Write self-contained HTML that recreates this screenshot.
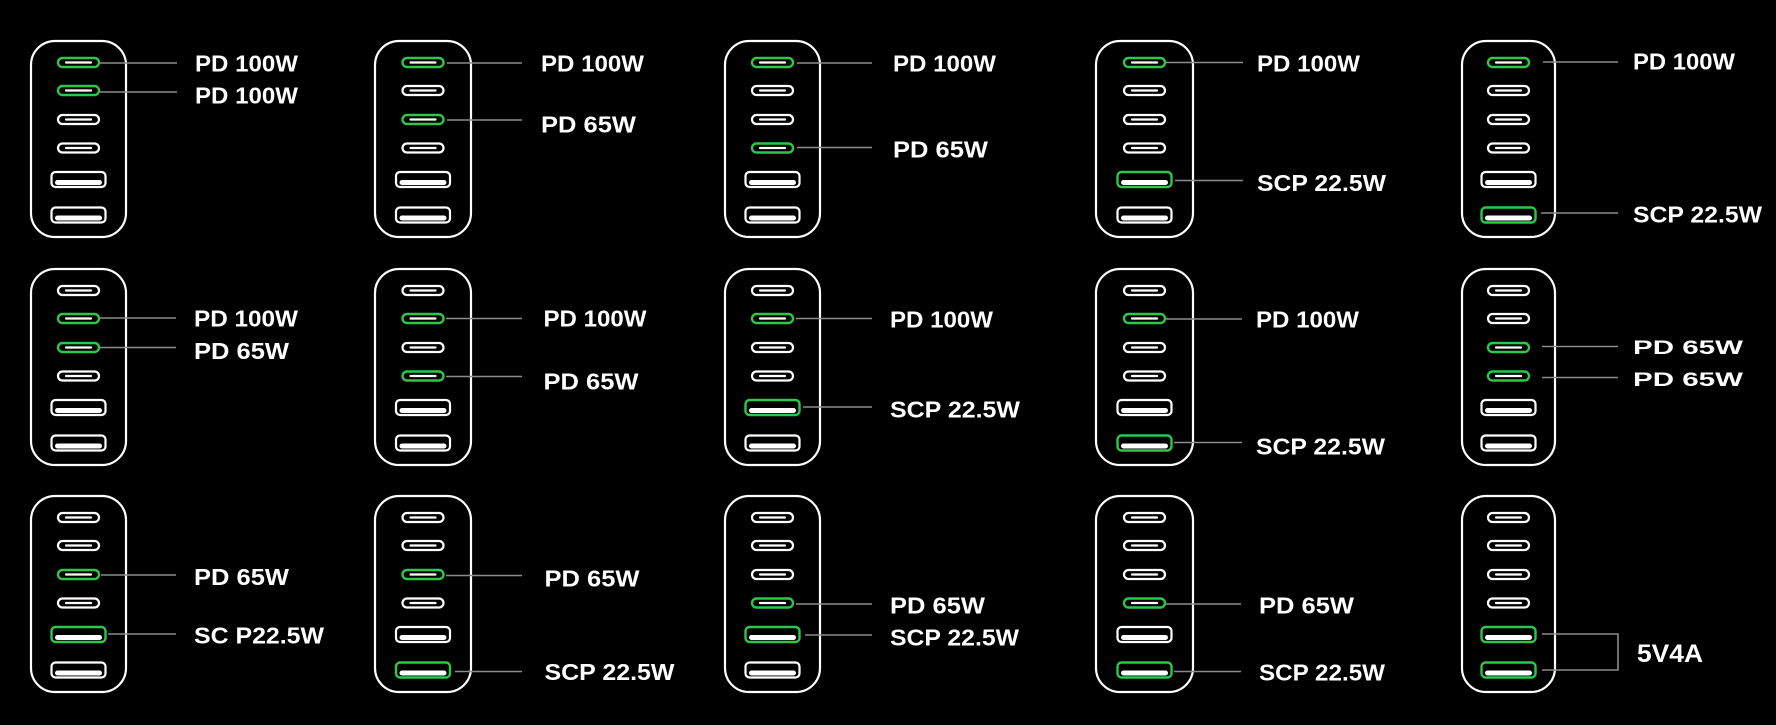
<!DOCTYPE html>
<html>
<head>
<meta charset="utf-8">
<style>
html,body{margin:0;padding:0;background:#000;}
svg{display:block;}
.box{fill:none;stroke:#fff;stroke-width:2.2;}
.ln{stroke:#8c8c8c;stroke-width:1.6;fill:none;}
.t{fill:#fff;font-family:"Liberation Sans",Arial,sans-serif;font-weight:bold;font-size:23px;}
.tw{fill:#fff;font-family:"Liberation Sans",Arial,sans-serif;font-weight:bold;font-size:19.5px;}
.tb{fill:#fff;font-family:"Liberation Sans",Arial,sans-serif;font-weight:bold;font-size:25px;}
</style>
</head>
<body>
<svg width="1776" height="725" viewBox="0 0 1776 725" xmlns="http://www.w3.org/2000/svg">
<rect width="1776" height="725" fill="#000"/>
<defs>
  <g id="c"><rect x="-20.5" y="-4.5" width="41" height="9" rx="4.5" fill="none" stroke="#fff" stroke-width="2.2"/><line x1="-12.5" y1="0" x2="12.5" y2="0" stroke="#fff" stroke-width="2.2" stroke-linecap="round"/></g>
  <g id="cg"><rect x="-20.5" y="-4.5" width="41" height="9" rx="4.5" fill="none" stroke="#2bc84a" stroke-width="2.4"/><line x1="-12.5" y1="0" x2="12.5" y2="0" stroke="#fff" stroke-width="2.2" stroke-linecap="round"/></g>
  <g id="a"><rect x="-27" y="-7.5" width="54" height="15" rx="4" fill="none" stroke="#fff" stroke-width="2.2"/><rect x="-23.5" y="0.5" width="47" height="5" rx="2.5" fill="#fff"/></g>
  <g id="ag"><rect x="-27" y="-7.5" width="54" height="15" rx="4" fill="none" stroke="#2bc84a" stroke-width="2.4"/><rect x="-23.5" y="0.5" width="47" height="5" rx="2.5" fill="#fff"/></g>
</defs>

<!-- ROW 1 -->
<g transform="translate(78.5,40)">
  <rect class="box" x="-47.5" y="1" width="95" height="196" rx="24"/>
  <use href="#cg" y="22.5"/><use href="#cg" y="50.5"/><use href="#c" y="79.5"/><use href="#c" y="108"/><use href="#a" y="139.5"/><use href="#a" y="175"/>
</g>
<line class="ln" x1="100" y1="63" x2="177" y2="63"/>
<line class="ln" x1="100" y1="92" x2="177" y2="92"/>
<text class="t" x="195" y="71.4" textLength="103" lengthAdjust="spacingAndGlyphs">PD 100W</text>
<text class="t" x="195" y="103.4" textLength="103" lengthAdjust="spacingAndGlyphs">PD 100W</text>

<g transform="translate(423,40)">
  <rect class="box" x="-48" y="1" width="96" height="196" rx="24"/>
  <use href="#cg" y="22.5"/><use href="#c" y="50.5"/><use href="#cg" y="79.5"/><use href="#c" y="108"/><use href="#a" y="139.5"/><use href="#a" y="175"/>
</g>
<line class="ln" x1="447" y1="63" x2="522" y2="63"/>
<line class="ln" x1="447" y1="120" x2="522" y2="120"/>
<text class="t" x="541" y="71.4" textLength="103" lengthAdjust="spacingAndGlyphs">PD 100W</text>
<text class="t" x="541" y="132.4" textLength="95" lengthAdjust="spacingAndGlyphs">PD 65W</text>

<g transform="translate(772.5,40)">
  <rect class="box" x="-47.5" y="1" width="95" height="196" rx="24"/>
  <use href="#cg" y="22.5"/><use href="#c" y="50.5"/><use href="#c" y="79.5"/><use href="#cg" y="108"/><use href="#a" y="139.5"/><use href="#a" y="175"/>
</g>
<line class="ln" x1="797" y1="63" x2="872" y2="63"/>
<line class="ln" x1="797" y1="147.5" x2="872" y2="147.5"/>
<text class="t" x="893" y="71.4" textLength="103" lengthAdjust="spacingAndGlyphs">PD 100W</text>
<text class="t" x="893" y="157.4" textLength="95" lengthAdjust="spacingAndGlyphs">PD 65W</text>

<g transform="translate(1144.5,40)">
  <rect class="box" x="-48.5" y="1" width="97" height="196" rx="24"/>
  <use href="#cg" y="22.5"/><use href="#c" y="50.5"/><use href="#c" y="79.5"/><use href="#c" y="108"/><use href="#ag" y="139.5"/><use href="#a" y="175"/>
</g>
<line class="ln" x1="1166" y1="62.5" x2="1243" y2="62.5"/>
<line class="ln" x1="1175" y1="180.5" x2="1243" y2="180.5"/>
<text class="t" x="1257" y="71.4" textLength="103" lengthAdjust="spacingAndGlyphs">PD 100W</text>
<text class="t" x="1257" y="190.9" textLength="129" lengthAdjust="spacingAndGlyphs">SCP 22.5W</text>

<g transform="translate(1508.5,40)">
  <rect class="box" x="-46.5" y="1" width="93" height="196" rx="24"/>
  <use href="#cg" y="22.5"/><use href="#c" y="50.5"/><use href="#c" y="79.5"/><use href="#c" y="108"/><use href="#a" y="139.5"/><use href="#ag" y="175"/>
</g>
<line class="ln" x1="1543" y1="62" x2="1618" y2="62"/>
<line class="ln" x1="1541" y1="213" x2="1618" y2="213"/>
<text class="t" x="1633" y="69.4" textLength="102" lengthAdjust="spacingAndGlyphs">PD 100W</text>
<text class="t" x="1633" y="222.4" textLength="129" lengthAdjust="spacingAndGlyphs">SCP 22.5W</text>

<!-- ROW 2 -->
<g transform="translate(78.5,268)">
  <rect class="box" x="-47.5" y="1" width="95" height="196" rx="24"/>
  <use href="#c" y="22.5"/><use href="#cg" y="50.5"/><use href="#cg" y="79.5"/><use href="#c" y="108"/><use href="#a" y="139.5"/><use href="#a" y="175"/>
</g>
<line class="ln" x1="100" y1="318" x2="176" y2="318"/>
<line class="ln" x1="100" y1="347.5" x2="176" y2="347.5"/>
<text class="t" x="194" y="326.7" textLength="104" lengthAdjust="spacingAndGlyphs">PD 100W</text>
<text class="t" x="194" y="358.9" textLength="95" lengthAdjust="spacingAndGlyphs">PD 65W</text>

<g transform="translate(423,268)">
  <rect class="box" x="-48" y="1" width="96" height="196" rx="24"/>
  <use href="#c" y="22.5"/><use href="#cg" y="50.5"/><use href="#c" y="79.5"/><use href="#cg" y="108"/><use href="#a" y="139.5"/><use href="#a" y="175"/>
</g>
<line class="ln" x1="446" y1="318.5" x2="522" y2="318.5"/>
<line class="ln" x1="446" y1="376.5" x2="522" y2="376.5"/>
<text class="t" x="543.5" y="326.7" textLength="103" lengthAdjust="spacingAndGlyphs">PD 100W</text>
<text class="t" x="543.5" y="389.4" textLength="95" lengthAdjust="spacingAndGlyphs">PD 65W</text>

<g transform="translate(772.5,268)">
  <rect class="box" x="-47.5" y="1" width="95" height="196" rx="24"/>
  <use href="#c" y="22.5"/><use href="#cg" y="50.5"/><use href="#c" y="79.5"/><use href="#c" y="108"/><use href="#ag" y="139.5"/><use href="#a" y="175"/>
</g>
<line class="ln" x1="796" y1="318.5" x2="872" y2="318.5"/>
<line class="ln" x1="803" y1="407" x2="872" y2="407"/>
<text class="t" x="890" y="327.4" textLength="103" lengthAdjust="spacingAndGlyphs">PD 100W</text>
<text class="t" x="890" y="417.4" textLength="130" lengthAdjust="spacingAndGlyphs">SCP 22.5W</text>

<g transform="translate(1144.5,268)">
  <rect class="box" x="-48.5" y="1" width="97" height="196" rx="24"/>
  <use href="#c" y="22.5"/><use href="#cg" y="50.5"/><use href="#c" y="79.5"/><use href="#c" y="108"/><use href="#a" y="139.5"/><use href="#ag" y="175"/>
</g>
<line class="ln" x1="1166" y1="319" x2="1242" y2="319"/>
<line class="ln" x1="1174" y1="442.5" x2="1242" y2="442.5"/>
<text class="t" x="1256" y="327.4" textLength="103" lengthAdjust="spacingAndGlyphs">PD 100W</text>
<text class="t" x="1256" y="454.7" textLength="129" lengthAdjust="spacingAndGlyphs">SCP 22.5W</text>

<g transform="translate(1508.5,268)">
  <rect class="box" x="-46.5" y="1" width="93" height="196" rx="24"/>
  <use href="#c" y="22.5"/><use href="#c" y="50.5"/><use href="#cg" y="79.5"/><use href="#cg" y="108"/><use href="#a" y="139.5"/><use href="#a" y="175"/>
</g>
<line class="ln" x1="1542" y1="346.5" x2="1618" y2="346.5"/>
<line class="ln" x1="1542" y1="377.5" x2="1618" y2="377.5"/>
<text class="tw" x="1633" y="354" textLength="110" lengthAdjust="spacingAndGlyphs">PD 65W</text>
<text class="tw" x="1633" y="385.8" textLength="110" lengthAdjust="spacingAndGlyphs">PD 65W</text>

<!-- ROW 3 -->
<g transform="translate(78.5,495)">
  <rect class="box" x="-47.5" y="1" width="95" height="196" rx="24"/>
  <use href="#c" y="22.5"/><use href="#c" y="50.5"/><use href="#cg" y="79.5"/><use href="#c" y="108"/><use href="#ag" y="139.5"/><use href="#a" y="175"/>
</g>
<line class="ln" x1="101" y1="575" x2="176" y2="575"/>
<line class="ln" x1="108" y1="634" x2="176" y2="634"/>
<text class="t" x="194" y="585.1" textLength="95" lengthAdjust="spacingAndGlyphs">PD 65W</text>
<text class="t" x="194" y="643.4" textLength="130" lengthAdjust="spacingAndGlyphs">SC P22.5W</text>

<g transform="translate(423,495)">
  <rect class="box" x="-48" y="1" width="96" height="196" rx="24"/>
  <use href="#c" y="22.5"/><use href="#c" y="50.5"/><use href="#cg" y="79.5"/><use href="#c" y="108"/><use href="#a" y="139.5"/><use href="#ag" y="175"/>
</g>
<line class="ln" x1="446" y1="575.5" x2="522" y2="575.5"/>
<line class="ln" x1="455" y1="671.5" x2="522" y2="671.5"/>
<text class="t" x="544.5" y="586.4" textLength="95" lengthAdjust="spacingAndGlyphs">PD 65W</text>
<text class="t" x="544.5" y="680.1" textLength="130" lengthAdjust="spacingAndGlyphs">SCP 22.5W</text>

<g transform="translate(772.5,495)">
  <rect class="box" x="-47.5" y="1" width="95" height="196" rx="24"/>
  <use href="#c" y="22.5"/><use href="#c" y="50.5"/><use href="#c" y="79.5"/><use href="#cg" y="108"/><use href="#ag" y="139.5"/><use href="#a" y="175"/>
</g>
<line class="ln" x1="796" y1="604" x2="872" y2="604"/>
<line class="ln" x1="805" y1="635" x2="872" y2="635"/>
<text class="t" x="890" y="613.4" textLength="95" lengthAdjust="spacingAndGlyphs">PD 65W</text>
<text class="t" x="890" y="645.4" textLength="129" lengthAdjust="spacingAndGlyphs">SCP 22.5W</text>

<g transform="translate(1144.5,495)">
  <rect class="box" x="-48.5" y="1" width="97" height="196" rx="24"/>
  <use href="#c" y="22.5"/><use href="#c" y="50.5"/><use href="#c" y="79.5"/><use href="#cg" y="108"/><use href="#a" y="139.5"/><use href="#ag" y="175"/>
</g>
<line class="ln" x1="1166" y1="604" x2="1241" y2="604"/>
<line class="ln" x1="1174" y1="671.5" x2="1241" y2="671.5"/>
<text class="t" x="1259" y="613.4" textLength="95" lengthAdjust="spacingAndGlyphs">PD 65W</text>
<text class="t" x="1259" y="680.4" textLength="126" lengthAdjust="spacingAndGlyphs">SCP 22.5W</text>

<g transform="translate(1508.5,495)">
  <rect class="box" x="-46.5" y="1" width="93" height="196" rx="24"/>
  <use href="#c" y="22.5"/><use href="#c" y="50.5"/><use href="#c" y="79.5"/><use href="#c" y="108"/><use href="#ag" y="139.5"/><use href="#ag" y="175"/>
</g>
<polyline class="ln" points="1542,634 1618,634 1618,670 1542,670"/>
<text class="tb" x="1637" y="662.2" textLength="66" lengthAdjust="spacingAndGlyphs">5V4A</text>
</svg>
</body>
</html>
